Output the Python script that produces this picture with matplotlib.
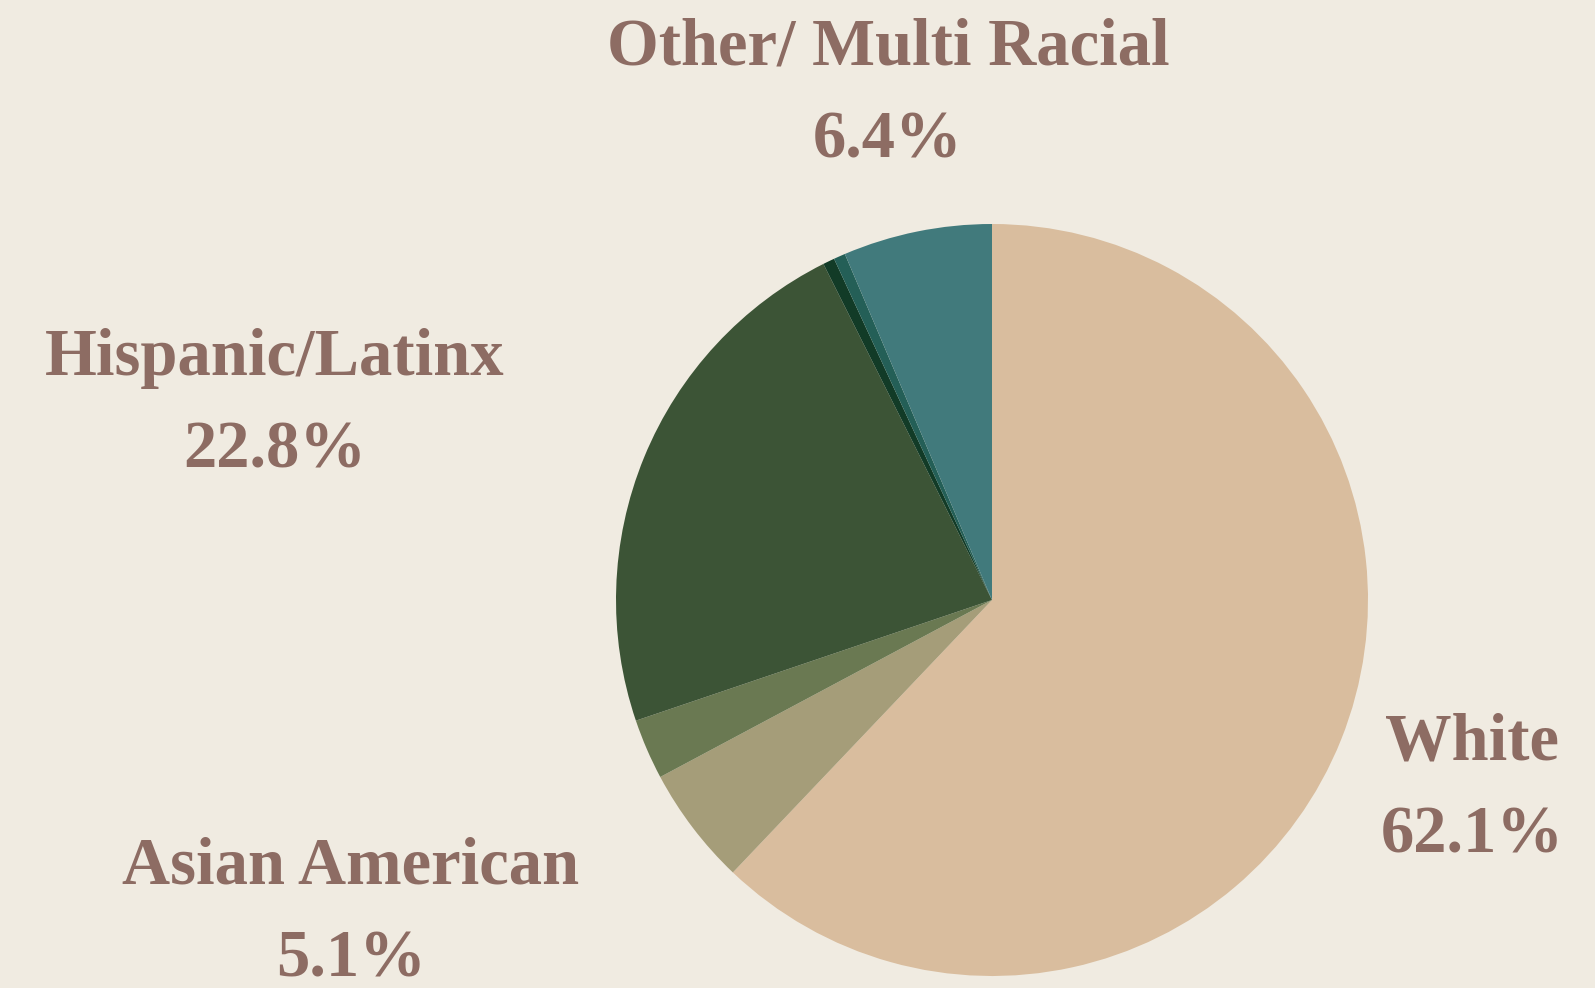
import matplotlib.pyplot as plt

# ethnicity breakdown, clockwise from the top
groups = ["White", "Asian American", "Native/Other", "Hispanic/Latinx",
          "Black", "Pacific Islander", "Other/ Multi Racial"]
shares = [62.1, 5.1, 2.6, 22.8, 0.5, 0.5, 6.4]
colors = ["#d9bd9e", "#a59d79", "#6a7952", "#3c5436",
          "#123b27", "#245f57", "#417a7c"]

# only the main groups get a label
label_names = ["Other/ Multi Racial", "Hispanic/Latinx", "Asian American", "White"]
label_vals = [6.4, 22.8, 5.1, 62.1]
label_pos = [(888, 48), (275, 358), (351, 867), (1472, 743)]

bg = "#f0ebe1"
txt = "#8d6c63"

W, H = 1595, 988
fig = plt.figure(figsize=(W / 100, H / 100), dpi=100, facecolor=bg)

cx, cy, r = 992, 600, 376
ax = fig.add_axes([(cx - r) / W, (H - cy - r) / H, 2 * r / W, 2 * r / H])
ax.set_facecolor(bg)
ax.pie(shares, colors=colors, startangle=90, counterclock=False,
       radius=1, wedgeprops=dict(linewidth=0))
ax.set_xlim(-1, 1)
ax.set_ylim(-1, 1)
ax.set_aspect("equal")
ax.axis("off")

for name, val, (x, y) in zip(label_names, label_vals, label_pos):
    fig.text(x / W, 1 - y / H, name, ha="center", va="center",
             fontsize=48, color=txt, family="Liberation Serif", weight="bold")
    fig.text(x / W, 1 - (y + 93) / H, f"{val}%", ha="center", va="center",
             fontsize=48, color=txt, family="Liberation Serif", weight="bold")

fig.savefig("out.png", dpi=100, facecolor=bg)
